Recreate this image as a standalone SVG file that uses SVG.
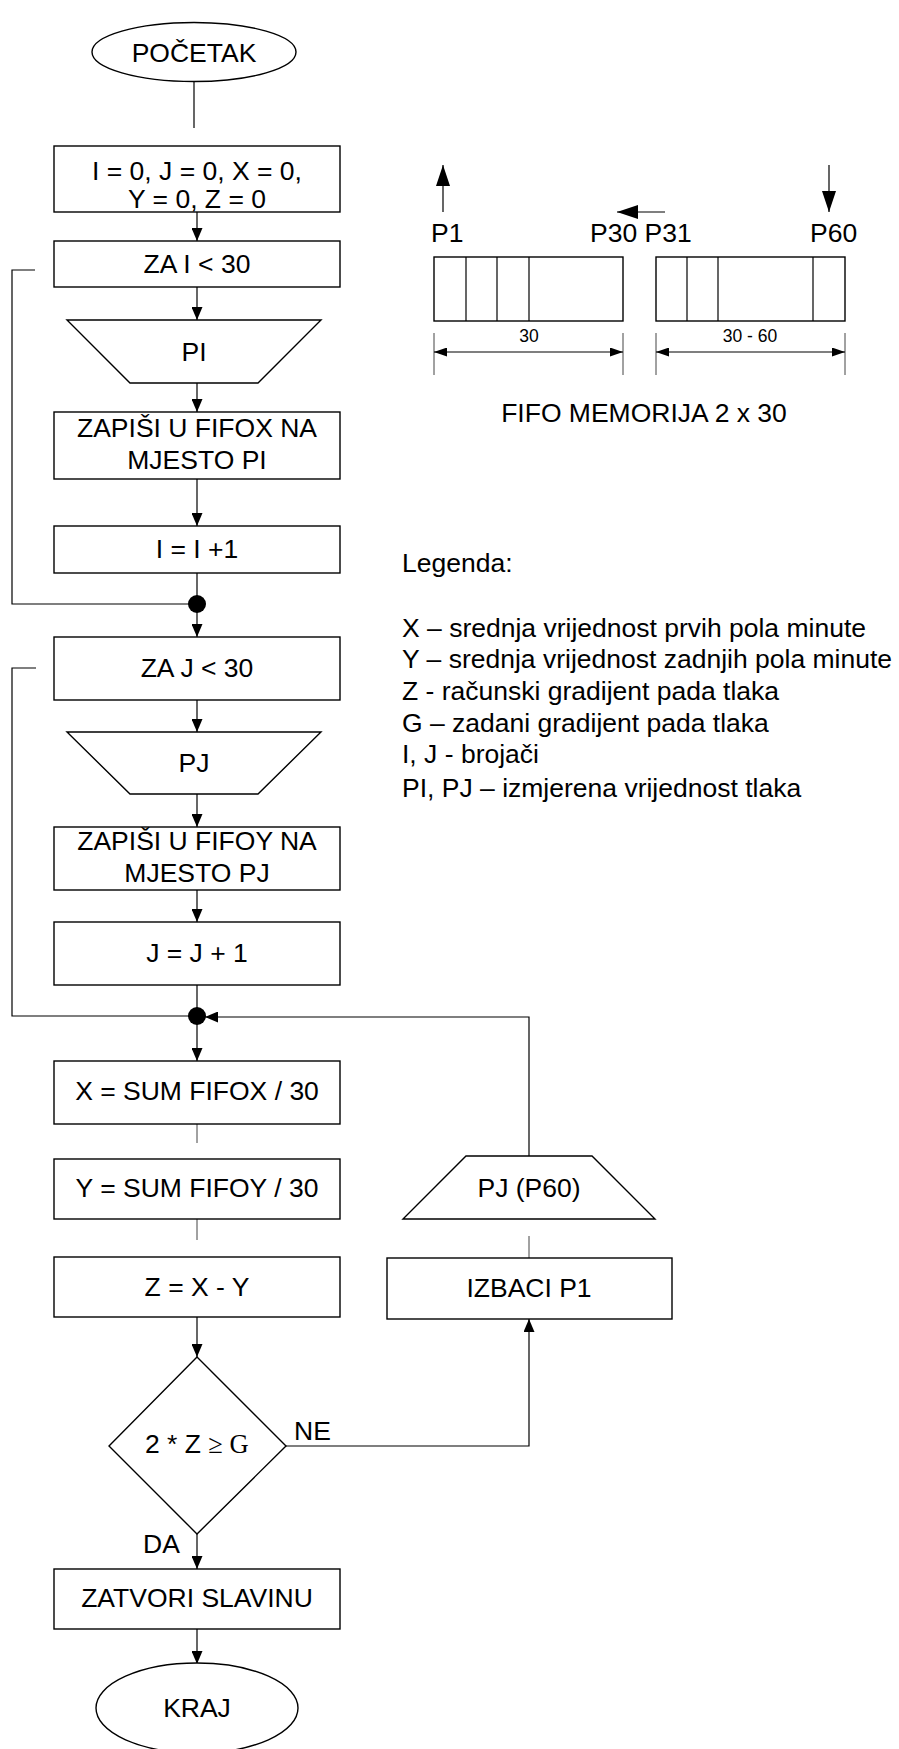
<svg xmlns="http://www.w3.org/2000/svg" width="899" height="1749" viewBox="0 0 899 1749">
<style>
text{font-family:"Liberation Sans",Arial,sans-serif;font-size:26.5px;fill:#000}
.c{text-anchor:middle}
.s{fill:#fff;stroke:#000;stroke-width:1.4}
.l{fill:none;stroke:#000;stroke-width:1.2}
.t{fill:none;stroke:#444;stroke-width:1}
.small{font-size:17.5px}
.serif{font-family:"Liberation Serif","Times New Roman",serif}
</style>
<defs>
<marker id="ah" viewBox="0 0 13 11" refX="13" refY="5.5" markerWidth="13" markerHeight="11" markerUnits="userSpaceOnUse" orient="auto"><path d="M0,0 L13,5.5 L0,11 z" fill="#000"/></marker>
<marker id="big" viewBox="0 0 21 14" refX="21" refY="7" markerWidth="21" markerHeight="14" markerUnits="userSpaceOnUse" orient="auto"><path d="M0,0 L21,7 L0,14 z" fill="#000"/></marker>
<marker id="ds" viewBox="0 0 13 9" refX="13" refY="4.5" markerWidth="13" markerHeight="9" markerUnits="userSpaceOnUse" orient="auto"><path d="M0,0 L13,4.5 L0,9 z" fill="#000"/></marker>
<marker id="dst" viewBox="0 0 13 9" refX="0" refY="4.5" markerWidth="13" markerHeight="9" markerUnits="userSpaceOnUse" orient="auto"><path d="M13,0 L0,4.5 L13,9 z" fill="#000"/></marker>
</defs>

<g id="connectors">
<line class="l" x1="194" y1="82" x2="194" y2="128"/>
<line class="l" x1="197" y1="212" x2="197" y2="241" marker-end="url(#ah)"/>
<line class="l" x1="197" y1="287" x2="197" y2="320" marker-end="url(#ah)"/>
<line class="l" x1="197" y1="383" x2="197" y2="412" marker-end="url(#ah)"/>
<line class="l" x1="197" y1="479" x2="197" y2="526" marker-end="url(#ah)"/>
<line class="l" x1="197" y1="573" x2="197" y2="604"/>
<polyline class="l" points="197,604 12,604 12,270 35,270"/>
<line class="l" x1="197" y1="604" x2="197" y2="637" marker-end="url(#ah)"/>
<line class="l" x1="197" y1="700" x2="197" y2="732" marker-end="url(#ah)"/>
<line class="l" x1="197" y1="794" x2="197" y2="827" marker-end="url(#ah)"/>
<line class="l" x1="197" y1="890" x2="197" y2="922" marker-end="url(#ah)"/>
<line class="l" x1="197" y1="985" x2="197" y2="1016"/>
<polyline class="l" points="197,1016 12,1016 12,668 36,668"/>
<polyline class="l" points="529,1156 529,1017 205,1017" marker-end="url(#ah)"/>
<line class="l" x1="197" y1="1016" x2="197" y2="1061" marker-end="url(#ah)"/>
<line class="t" x1="197" y1="1124" x2="197" y2="1143"/>
<line class="t" x1="197" y1="1219" x2="197" y2="1240"/>
<line class="l" x1="197" y1="1317" x2="197" y2="1357" marker-end="url(#ah)"/>
<polyline class="l" points="286,1446 529,1446 529,1319" marker-end="url(#ah)"/>
<line class="t" x1="529" y1="1236" x2="529" y2="1258"/>
<line class="l" x1="197" y1="1534" x2="197" y2="1569" marker-end="url(#ah)"/>
<line class="l" x1="197" y1="1629" x2="197" y2="1664" marker-end="url(#ah)"/>
<circle cx="197" cy="604" r="9" fill="#000"/>
<circle cx="197" cy="1016" r="9" fill="#000"/>
</g>

<g id="start"><ellipse class="s" cx="194" cy="52" rx="102" ry="29.5"/><text class="c" x="194" y="62">POČETAK</text></g>
<g id="init"><rect class="s" x="54" y="146" width="286" height="66"/><text class="c" x="197" y="180">I = 0, J = 0, X = 0,</text><text class="c" x="197" y="208">Y = 0, Z = 0</text></g>
<g id="loopI"><rect class="s" x="54" y="241" width="286" height="46"/><text class="c" x="197" y="273">ZA I &lt; 30</text></g>
<g id="inPI"><polygon class="s" points="67,320 321,320 258,383 130,383"/><text class="c" x="194" y="361">PI</text></g>
<g id="writeX"><rect class="s" x="54" y="412" width="286" height="67"/><text class="c" x="197" y="437">ZAPIŠI U FIFOX NA</text><text class="c" x="197" y="469">MJESTO PI</text></g>
<g id="incI"><rect class="s" x="54" y="526" width="286" height="47"/><text class="c" x="197" y="558">I = I +1</text></g>
<g id="loopJ"><rect class="s" x="54" y="637" width="286" height="63"/><text class="c" x="197" y="677">ZA J &lt; 30</text></g>
<g id="inPJ"><polygon class="s" points="67,732 321,732 258,794 130,794"/><text class="c" x="194" y="772">PJ</text></g>
<g id="writeY"><rect class="s" x="54" y="827" width="286" height="63"/><text class="c" x="197" y="850">ZAPIŠI U FIFOY NA</text><text class="c" x="197" y="882">MJESTO PJ</text></g>
<g id="incJ"><rect class="s" x="54" y="922" width="286" height="63"/><text class="c" x="197" y="962">J = J + 1</text></g>
<g id="sumX"><rect class="s" x="54" y="1061" width="286" height="63"/><text class="c" x="197" y="1100">X = SUM FIFOX / 30</text></g>
<g id="sumY"><rect class="s" x="54" y="1159" width="286" height="60"/><text class="c" x="197" y="1197">Y = SUM FIFOY / 30</text></g>
<g id="calcZ"><rect class="s" x="54" y="1257" width="286" height="60"/><text class="c" x="197" y="1296">Z = X - Y</text></g>
<g id="decision"><polygon class="s" points="197,1357 286,1446 197,1534 109,1446"/><text x="145" y="1453">2 * Z <tspan class="serif">≥ G</tspan></text></g>
<g id="labels"><text x="294" y="1440">NE</text><text x="143" y="1553">DA</text></g>
<g id="close"><rect class="s" x="54" y="1569" width="286" height="60"/><text class="c" x="197" y="1607">ZATVORI SLAVINU</text></g>
<g id="end"><ellipse class="s" cx="197" cy="1708" rx="101" ry="45"/><text class="c" x="197" y="1717">KRAJ</text></g>
<g id="inP60"><polygon class="s" points="466,1156 592,1156 655,1219 403,1219"/><text class="c" x="529" y="1197">PJ (P60)</text></g>
<g id="eject"><rect class="s" x="387" y="1258" width="285" height="61"/><text class="c" x="529" y="1297">IZBACI P1</text></g>

<g id="fifo">
<line class="l" x1="443" y1="212" x2="443" y2="165" marker-end="url(#big)"/>
<line class="l" x1="665" y1="212" x2="617" y2="212" marker-end="url(#big)"/>
<line class="l" x1="829" y1="165" x2="829" y2="212" marker-end="url(#big)"/>
<text x="431" y="242">P1</text>
<text x="590" y="242">P30 P31</text>
<text x="810" y="242">P60</text>
<rect class="s" x="434" y="257" width="189" height="64"/>
<line class="l" x1="466" y1="257" x2="466" y2="321"/>
<line class="l" x1="497" y1="257" x2="497" y2="321"/>
<line class="l" x1="529" y1="257" x2="529" y2="321"/>
<rect class="s" x="656" y="257" width="189" height="64"/>
<line class="l" x1="687" y1="257" x2="687" y2="321"/>
<line class="l" x1="718" y1="257" x2="718" y2="321"/>
<line class="l" x1="813" y1="257" x2="813" y2="321"/>
<line class="t" x1="434" y1="333" x2="434" y2="375"/>
<line class="t" x1="623" y1="333" x2="623" y2="375"/>
<line class="t" x1="656" y1="333" x2="656" y2="375"/>
<line class="t" x1="845" y1="333" x2="845" y2="375"/>
<line class="l" x1="434" y1="352" x2="623" y2="352" marker-start="url(#dst)" marker-end="url(#ds)"/>
<line class="l" x1="656" y1="352" x2="845" y2="352" marker-start="url(#dst)" marker-end="url(#ds)"/>
<text class="c small" x="529" y="342">30</text>
<text class="c small" x="750" y="342">30 - 60</text>
<text class="c" x="644" y="422">FIFO MEMORIJA 2 x 30</text>
</g>

<g id="legend">
<text x="402" y="572">Legenda:</text>
<text x="402" y="637">X – srednja vrijednost prvih pola minute</text>
<text x="402" y="668">Y – srednja vrijednost zadnjih pola minute</text>
<text x="402" y="700">Z - računski gradijent pada tlaka</text>
<text x="402" y="732">G – zadani gradijent pada tlaka</text>
<text x="402" y="763">I, J - brojači</text>
<text x="402" y="797">PI, PJ – izmjerena vrijednost tlaka</text>
</g>
</svg>
